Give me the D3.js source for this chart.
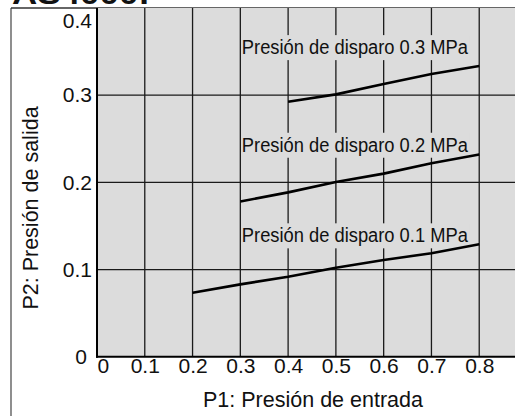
<!DOCTYPE html>
<html>
<head>
<meta charset="utf-8">
<script src="https://cdn.jsdelivr.net/npm/d3@7"></script>
<style>
  html, body { margin: 0; padding: 0; background: #fff; }
  svg { display: block; font-family: "Liberation Sans", Arial, Helvetica, sans-serif; }
</style>
</head>
<body>
<svg id="chart" width="515" height="416"></svg>
<script>
// ---- data ----
const xTicks = [0, 0.1, 0.2, 0.3, 0.4, 0.5, 0.6, 0.7, 0.8];
const xTickLabels = ["0", "0.1", "0.2", "0.3", "0.4", "0.5", "0.6", "0.7", "0.8"];
const yTicks = [0, 0.1, 0.2, 0.3, 0.4];
const yTickLabels = ["0", "0.1", "0.2", "0.3", "0.4"];

const seriesNames = ["Presión de disparo 0.1 MPa", "Presión de disparo 0.2 MPa", "Presión de disparo 0.3 MPa"];
const p1_01 = [0.2, 0.3, 0.4, 0.5, 0.6, 0.7, 0.8];
const p2_01 = [0.0734, 0.083, 0.0917, 0.102, 0.111, 0.1186, 0.129];
const p1_02 = [0.3, 0.4, 0.5, 0.6, 0.7, 0.8];
const p2_02 = [0.178, 0.1885, 0.2003, 0.210, 0.2218, 0.232];
const p1_03 = [0.4, 0.5, 0.6, 0.7, 0.8];
const p2_03 = [0.2924, 0.3009, 0.3127, 0.3242, 0.3334];
const labelX = [0.3, 0.3, 0.3];
const labelY = [0.1312, 0.2351, 0.3471];

const xTitle = "P1: Presión de entrada";
const yTitle = "P2: Presión de salida";
const headerText = "AS4000:";

// ---- layout ----
const svg = d3.select("#chart");
const x = d3.scaleLinear().domain([0, 0.9]).range([97, 527]);
const y = d3.scaleLinear().domain([0, 0.4]).range([356.7, 8]);

// cropped header text (cut off at the top edge, as in the reference)
svg.append("text")
  .attr("x", 12).attr("y", 4)
  .attr("font-size", 30).attr("font-weight", "bold")
  .attr("textLength", 138).attr("lengthAdjust", "spacingAndGlyphs")
  .attr("fill", "#111")
  .text(headerText);

// outer frame
svg.append("line").attr("x1", 11).attr("x2", 11).attr("y1", 8).attr("y2", 416)
  .attr("stroke", "#444").attr("stroke-width", 1.2);
svg.append("line").attr("x1", 11).attr("x2", 515).attr("y1", 8).attr("y2", 8)
  .attr("stroke", "#333").attr("stroke-width", 1.4);

// plot background
svg.append("rect")
  .attr("x", x(0)).attr("y", y(0.4))
  .attr("width", x(0.9) - x(0)).attr("height", y(0) - y(0.4))
  .attr("fill", "#dcdcdc");

// grid
const grid = svg.append("g");
grid.selectAll("line.v").data(xTicks.slice(1).concat([0.9])).enter().append("line")
  .attr("x1", d => x(d)).attr("x2", d => x(d))
  .attr("y1", y(0.4)).attr("y2", y(0))
  .attr("stroke", "#1a1a1a").attr("stroke-width", 1.3);
grid.selectAll("line.h").data(yTicks.slice(1, 4)).enter().append("line")
  .attr("x1", x(0)).attr("x2", x(0.9))
  .attr("y1", d => y(d)).attr("y2", d => y(d))
  .attr("stroke", "#1a1a1a").attr("stroke-width", 1.3);

// axis lines
svg.append("line").attr("x1", x(0)).attr("x2", x(0)).attr("y1", y(0.4)).attr("y2", y(0) + 1)
  .attr("stroke", "#000").attr("stroke-width", 2);
svg.append("line").attr("x1", x(0) - 1).attr("x2", x(0.9)).attr("y1", y(0)).attr("y2", y(0))
  .attr("stroke", "#000").attr("stroke-width", 2);

// x axis
const xAxis = svg.append("g")
  .attr("transform", `translate(0,${y(0)})`)
  .call(d3.axisBottom(x).tickValues(xTicks).tickSize(0).tickPadding(1)
    .tickFormat((d, i) => xTickLabels[i]));
xAxis.select(".domain").remove();
xAxis.selectAll("text")
  .attr("font-size", 21).attr("font-family", "Liberation Sans, Arial, sans-serif")
  .attr("fill", "#111")
  .attr("text-anchor", (d, i) => i === 0 ? "start" : "middle");

// y axis
const yAxis = svg.append("g")
  .attr("transform", `translate(${x(0)},0)`)
  .call(d3.axisLeft(y).tickValues(yTicks).tickSize(0).tickPadding(5)
    .tickFormat((d, i) => yTickLabels[i]));
yAxis.select(".domain").remove();
yAxis.selectAll("text")
  .attr("font-size", 21).attr("font-family", "Liberation Sans, Arial, sans-serif")
  .attr("fill", "#111")
  .attr("dx", (d, i) => i === 0 ? -5 : 0)
  .attr("transform", (d, i) => i === yTicks.length - 1 ? "translate(0,13)" : null);

// titles
svg.append("text")
  .attr("x", 313).attr("y", 407)
  .attr("text-anchor", "middle").attr("font-size", 21.5).attr("fill", "#111")
  .text(xTitle);
svg.append("text")
  .attr("transform", "translate(37.5,208) rotate(-90)")
  .attr("text-anchor", "middle").attr("font-size", 21.5).attr("fill", "#111")
  .text(yTitle);

// annotation labels with background
const labels = svg.append("g");
seriesNames.forEach((name, i) => {
  const bx = x(labelX[i]) + 1.5;
  const by = y(labelY[i]);
  labels.append("rect")
    .attr("x", bx).attr("y", by - 19)
    .attr("width", 228).attr("height", 25)
    .attr("fill", "#dcdcdc");
  labels.append("text")
    .attr("x", bx).attr("y", by)
    .attr("font-size", 19.5).attr("fill", "#111")
    .attr("textLength", 226).attr("lengthAdjust", "spacingAndGlyphs")
    .text(name);
});

// lines
const line = d3.line().x(d => x(d[0])).y(d => y(d[1]));
const series = [
  d3.zip(p1_01, p2_01),
  d3.zip(p1_02, p2_02),
  d3.zip(p1_03, p2_03)
];
svg.append("g").selectAll("path").data(series).enter().append("path")
  .attr("d", line)
  .attr("fill", "none").attr("stroke", "#000").attr("stroke-width", 2.6)
  .attr("stroke-linejoin", "round");
</script>
</body>
</html>
